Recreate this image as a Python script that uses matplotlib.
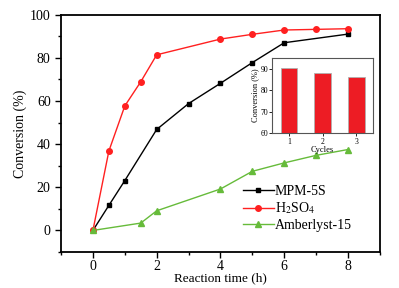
import matplotlib
matplotlib.use('Agg')
import matplotlib.pyplot as plt
from matplotlib.ticker import MultipleLocator

plt.rcParams['font.family'] = ['Liberation Serif', 'DejaVu Serif']
plt.rcParams['mathtext.fontset'] = 'stix'

# data
mpm_t = [0, 0.5, 1, 2, 3, 4, 5, 6, 8]
mpm_conv = [0, 11.6, 23.1, 46.8, 58.8, 68.2, 77.8, 87.0, 91.0]

h2so4_t = [0, 0.5, 1, 1.5, 2, 4, 5, 6, 7, 8]
h2so4_conv = [0, 36.8, 57.7, 68.9, 81.4, 88.7, 90.9, 92.9, 93.2, 93.5]

amb_t = [0, 1.5, 2, 4, 5, 6, 7, 8]
amb_conv = [0, 3.4, 9.1, 19.2, 27.4, 31.3, 34.8, 37.5]

cycles = [1, 2, 3]
cycle_conv = [90.3, 88.0, 86.0]

fig = plt.figure(figsize=(3.99, 2.88), dpi=100)
ax = fig.add_axes([0.153, 0.125, 0.799, 0.824])

ax.plot(mpm_t, mpm_conv, 's-', color='black', ms=3.5, lw=1.0, label='MPM-5S')
ax.plot(h2so4_t, h2so4_conv, 'o-', color='#ff2020', ms=4, lw=1.0, label=r'H$_2$SO$_4$')
ax.plot(amb_t, amb_conv, '^-', color='#66bb3a', ms=4, lw=1.0, label='Amberlyst-15')

ax.set_xlim(-1, 9)
ax.set_ylim(-10, 100)
ax.xaxis.set_major_locator(MultipleLocator(2))
ax.xaxis.set_minor_locator(MultipleLocator(1))
ax.yaxis.set_major_locator(MultipleLocator(20))
ax.yaxis.set_minor_locator(MultipleLocator(10))
ax.tick_params(which='both', direction='out', labelsize=10, width=1)
ax.tick_params(which='major', length=4)
ax.tick_params(which='minor', length=2.5)
ax.tick_params(axis='x', pad=1.5)
for s in ax.spines.values():
    s.set_linewidth(1.3)
ax.set_xlabel('Reaction time (h)', fontsize=9.5, labelpad=0)
ax.set_ylabel('Conversion (%)', fontsize=10, labelpad=2)

ax.legend(loc='lower right', bbox_to_anchor=(0.93, 0.06), frameon=False, fontsize=10,
          handlelength=2.2, handletextpad=0.1, labelspacing=0.2, borderaxespad=0)

# inset: recycling
ins = fig.add_axes([0.682, 0.537, 0.253, 0.262])
ins.bar(cycles, cycle_conv, width=0.5, color='#ed1c24', edgecolor='#b0b0b0', linewidth=0.6)
ins.set_xlim(0.5, 3.5)
ins.set_ylim(60, 95)
ins.set_xticks(cycles)
ins.yaxis.set_major_locator(MultipleLocator(10))
ins.tick_params(direction='out', labelsize=5.5, length=2, width=0.6, pad=1)
for s in ins.spines.values():
    s.set_linewidth(0.8)
    s.set_color('#555555')
ins.set_xlabel('Cycles', fontsize=6, labelpad=0)
ins.set_ylabel('Conversion (%)', fontsize=6, labelpad=1)

fig.savefig('out.png', dpi=100)
